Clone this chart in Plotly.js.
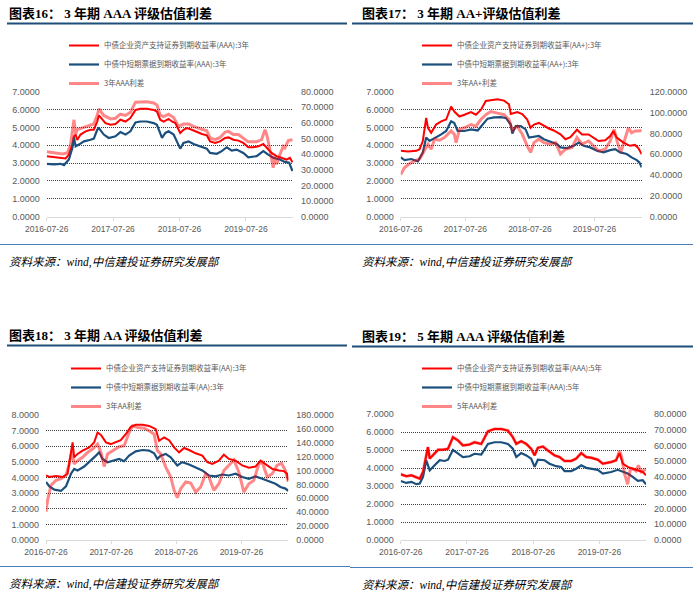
<!DOCTYPE html>
<html><head><meta charset="utf-8">
<script src="https://cdn.plot.ly/plotly-3.0.1.min.js"></script>
<style>html,body{margin:0;padding:0;background:#fff}#chart{width:700px;height:596px}</style>
</head><body><div id="chart"></div>
<script>
// ---------- Panel 1: 3年期 AAA ----------
const p1Names = ['中债企业资产支持证券到期收益率(AAA):3年','中债中短期票据到期收益率(AAA):3年','3年AAA利差'];
const p1RedDates = ['2016-07-26','2016-09-04','2016-10-20','2016-11-07','2016-11-25','2016-12-14','2016-12-23','2017-01-01','2017-01-10','2017-01-28','2017-02-25','2017-03-24','2017-04-11','2017-04-30','2017-05-09','2017-05-27','2017-06-14','2017-07-12','2017-08-08','2017-09-04','2017-10-02','2017-10-29','2017-11-26','2017-12-23','2018-01-28','2018-03-06','2018-03-24','2018-04-11','2018-04-30','2018-05-27','2018-06-14','2018-07-03','2018-07-21','2018-07-30','2018-08-17','2018-09-05','2018-10-02','2018-10-29','2018-11-26','2018-12-23','2019-01-10','2019-02-07','2019-03-06','2019-04-03','2019-04-21','2019-05-18','2019-06-15','2019-07-12','2019-08-08','2019-09-05','2019-10-02','2019-10-30','2019-11-17','2019-12-14','2020-01-11','2020-02-07','2020-03-05','2020-03-24','2020-04-07'];
const p1RedVals = [3.39,3.33,3.30,3.26,3.48,4.04,4.50,4.60,4.30,4.60,4.78,4.87,4.87,5.33,5.67,5.43,5.24,5.15,5.19,5.43,5.33,5.52,5.98,6.04,6.04,5.98,5.89,5.43,5.33,5.48,5.33,5.24,4.87,4.69,4.87,4.96,4.87,4.74,4.63,4.56,4.22,4.13,4.22,4.41,4.44,4.31,4.26,4.13,3.89,3.89,3.94,4.07,3.89,3.57,3.39,3.30,3.20,3.30,3.05];
const p1BlueDates = ['2016-07-26','2016-09-04','2016-10-11','2016-10-29','2016-11-25','2016-12-14','2016-12-23','2017-01-01','2017-01-19','2017-02-16','2017-03-24','2017-04-11','2017-04-30','2017-05-09','2017-06-05','2017-07-02','2017-08-08','2017-09-04','2017-10-02','2017-10-29','2017-11-26','2017-12-23','2018-01-28','2018-03-06','2018-03-24','2018-04-21','2018-05-09','2018-05-27','2018-06-24','2018-07-12','2018-07-30','2018-08-17','2018-09-14','2018-10-11','2018-11-17','2018-12-23','2019-01-10','2019-02-16','2019-03-15','2019-04-12','2019-05-09','2019-06-05','2019-07-12','2019-08-08','2019-09-23','2019-10-30','2019-11-26','2019-12-23','2020-01-29','2020-02-25','2020-03-20','2020-04-07'];
const p1BlueVals = [2.96,2.93,2.96,2.89,3.20,3.85,4.44,3.94,4.04,4.22,4.31,4.37,4.87,4.96,4.60,4.41,4.50,4.74,4.60,4.78,5.28,5.33,5.33,5.24,5.15,4.41,4.69,4.78,4.60,4.22,3.81,4.13,4.22,4.07,3.94,3.81,3.57,3.52,3.67,3.89,3.70,3.76,3.57,3.33,3.39,3.67,3.48,3.30,3.20,3.07,3.02,2.56];
const p1SpreadDates = ['2016-07-26','2016-09-04','2016-10-20','2016-11-16','2016-12-04','2016-12-23','2017-01-01','2017-01-10','2017-02-06','2017-03-06','2017-04-11','2017-04-30','2017-05-09','2017-06-05','2017-07-12','2017-08-08','2017-09-04','2017-10-02','2017-10-29','2017-11-26','2017-12-23','2018-01-28','2018-03-06','2018-03-24','2018-04-11','2018-04-30','2018-05-27','2018-06-24','2018-07-21','2018-08-17','2018-09-14','2018-10-11','2018-11-17','2018-12-23','2019-01-10','2019-02-07','2019-03-06','2019-04-03','2019-04-21','2019-05-18','2019-06-15','2019-07-12','2019-08-08','2019-09-23','2019-10-20','2019-11-08','2019-11-20','2019-12-05','2019-12-23','2020-01-01','2020-01-11','2020-01-29','2020-02-16','2020-02-25','2020-03-15','2020-04-07'];
const p1SpreadVals = [41.5,40.8,40.2,40.8,46.0,62.0,53.0,55.7,56.7,57.8,59.3,65.0,69.0,64.8,62.6,63.0,65.6,64.8,66.8,73.3,73.6,73.6,72.8,71.5,65.0,64.0,65.6,63.5,57.8,59.3,59.3,57.8,56.3,55.0,50.4,49.3,50.7,54.2,54.6,52.6,52.6,50.4,47.9,47.9,49.3,55.6,51.4,43.0,31.3,38.7,33.5,39.8,45.0,44.0,48.7,49.3];

// ---------- Panel 2: 3年期 AA+ ----------
const p2Names = ['中债企业资产支持证券到期收益率(AA+):3年','中债中短期票据到期收益率(AA+):3年','3年AA+利差'];
const p2RedDates = ['2016-07-26','2016-09-05','2016-10-22','2016-11-10','2016-11-28','2016-12-17','2016-12-27','2017-01-14','2017-02-11','2017-03-12','2017-04-09','2017-05-07','2017-05-25','2017-06-23','2017-07-21','2017-08-27','2017-09-24','2017-10-22','2017-11-19','2017-12-17','2018-01-24','2018-03-02','2018-03-30','2018-04-09','2018-05-16','2018-06-13','2018-07-11','2018-07-30','2018-08-18','2018-09-15','2018-10-13','2018-11-10','2018-12-08','2019-01-15','2019-02-12','2019-03-12','2019-04-18','2019-05-17','2019-06-23','2019-07-21','2019-08-18','2019-09-25','2019-10-23','2019-11-10','2019-11-29','2020-01-06','2020-02-12','2020-03-11','2020-03-30','2020-04-18'];
const p2RedVals = [3.69,3.65,3.69,3.78,4.24,5.53,4.98,4.70,5.16,5.34,5.44,6.17,5.89,5.61,5.71,5.86,5.71,5.98,6.48,6.54,6.58,6.50,6.30,5.75,5.86,5.75,5.44,4.98,5.16,5.25,5.07,4.94,4.83,4.61,4.34,4.46,4.87,4.61,4.61,4.43,4.24,4.28,4.52,4.80,4.43,4.15,3.97,4.02,3.84,3.50];
const p2BlueDates = ['2016-07-26','2016-08-17','2016-09-24','2016-10-31','2016-11-28','2016-12-17','2017-01-05','2017-02-02','2017-03-12','2017-04-09','2017-05-07','2017-05-25','2017-06-13','2017-07-21','2017-08-27','2017-10-04','2017-11-01','2017-11-29','2018-01-05','2018-02-12','2018-03-12','2018-04-09','2018-04-18','2018-05-07','2018-06-04','2018-07-02','2018-07-21','2018-08-18','2018-09-15','2018-10-13','2018-11-20','2018-12-27','2019-01-15','2019-02-21','2019-03-31','2019-04-28','2019-05-26','2019-07-02','2019-08-09','2019-09-15','2019-10-23','2019-11-20','2019-12-18','2020-01-24','2020-02-21','2020-03-21','2020-04-05','2020-04-18'];
const p2BlueVals = [3.32,3.17,3.23,3.10,3.60,4.43,4.24,4.39,4.61,4.80,5.34,5.25,4.80,4.80,4.89,4.83,5.16,5.49,5.56,5.58,5.53,5.16,4.65,5.07,5.07,4.89,4.43,4.46,4.52,4.34,4.21,4.06,3.88,3.84,3.97,4.15,3.97,3.88,3.69,3.60,3.73,3.78,3.60,3.51,3.32,3.17,3.04,2.76];
const p2SpreadDates = ['2016-07-26','2016-08-17','2016-09-15','2016-10-13','2016-11-10','2016-12-08','2016-12-27','2017-01-14','2017-02-02','2017-03-02','2017-03-30','2017-05-07','2017-05-25','2017-06-04','2017-06-23','2017-07-21','2017-08-27','2017-09-24','2017-10-22','2017-11-19','2017-12-17','2018-01-24','2018-03-02','2018-03-30','2018-04-18','2018-05-16','2018-06-13','2018-07-11','2018-07-30','2018-08-18','2018-09-15','2018-10-13','2018-11-20','2018-12-18','2019-01-15','2019-02-12','2019-03-21','2019-04-18','2019-05-17','2019-06-23','2019-07-21','2019-08-18','2019-09-25','2019-10-23','2019-11-14','2019-12-03','2019-12-22','2020-01-15','2020-02-03','2020-02-21','2020-03-11','2020-03-30','2020-04-18'];
const p2SpreadVals = [40.5,47.3,51.0,53.6,55.3,63.2,69.6,64.8,74.4,73.4,75.9,82.3,79.1,71.1,83.8,85.4,88.5,86.9,93.3,97.9,101.0,99.4,97.9,93.3,82.8,86.9,79.1,68.0,61.7,71.1,74.4,71.1,69.6,71.1,60.2,64.8,66.5,75.9,69.6,72.7,68.0,63.2,64.8,72.7,83.8,71.1,61.7,74.4,85.4,80.6,82.3,82.3,82.8];

// ---------- Panel 3: 3年期 AA ----------
const p3Names = ['中债企业资产支持证券到期收益率(AA):3年','中债中短期票据到期收益率(AA):3年','3年AA利差'];
const p3RedDates = ['2016-07-26','2016-08-14','2016-09-20','2016-10-27','2016-11-24','2016-12-13','2016-12-22','2016-12-31','2017-01-19','2017-02-16','2017-03-25','2017-04-22','2017-05-11','2017-05-30','2017-06-27','2017-07-24','2017-08-21','2017-09-18','2017-10-16','2017-11-13','2017-12-11','2018-01-18','2018-02-24','2018-04-02','2018-04-21','2018-05-19','2018-06-16','2018-07-14','2018-08-11','2018-09-08','2018-10-06','2018-11-12','2018-12-19','2019-01-16','2019-02-13','2019-03-22','2019-04-19','2019-05-17','2019-06-24','2019-07-31','2019-09-06','2019-10-13','2019-11-10','2019-12-08','2020-01-15','2020-02-21','2020-03-20','2020-04-07','2020-04-14'];
const p3RedVals = [4.13,4.03,4.09,4.03,4.24,5.51,6.25,5.29,5.51,5.72,5.93,6.25,6.88,6.73,6.25,6.14,6.25,6.39,6.77,7.24,7.37,7.37,7.30,7.09,6.35,6.56,6.39,5.93,5.61,5.89,5.76,5.55,5.40,4.98,4.87,5.08,5.46,5.19,5.08,4.77,4.62,4.70,5.08,4.87,4.55,4.45,4.41,4.24,3.81];
const p3BlueDates = ['2016-07-26','2016-08-14','2016-09-11','2016-10-18','2016-11-15','2016-12-13','2016-12-31','2017-01-19','2017-02-25','2017-04-04','2017-05-02','2017-05-20','2017-06-08','2017-07-06','2017-08-12','2017-09-09','2017-10-07','2017-11-04','2017-12-11','2018-01-18','2018-02-24','2018-03-24','2018-04-11','2018-04-30','2018-05-28','2018-06-25','2018-08-01','2018-08-29','2018-10-06','2018-11-12','2018-12-19','2019-01-25','2019-03-04','2019-04-10','2019-05-17','2019-06-24','2019-07-31','2019-09-06','2019-10-13','2019-11-20','2019-12-27','2020-02-02','2020-03-01','2020-03-29','2020-04-14'];
const p3BlueVals = [3.71,3.43,3.22,3.14,3.43,4.24,4.55,4.45,4.70,5.08,5.40,5.61,5.19,4.98,5.08,5.19,5.04,5.40,5.67,5.76,5.72,5.55,5.19,5.40,5.51,5.29,4.77,4.98,4.83,4.62,4.45,4.13,4.07,4.19,4.13,4.24,4.03,3.92,4.07,3.92,3.77,3.60,3.39,3.29,3.14];
const p3SpreadDates = ['2016-07-26','2016-08-04','2016-08-23','2016-09-20','2016-10-18','2016-11-15','2016-12-03','2016-12-18','2016-12-31','2017-01-19','2017-02-16','2017-03-16','2017-04-13','2017-05-11','2017-05-30','2017-06-17','2017-07-06','2017-08-03','2017-09-09','2017-10-07','2017-11-04','2017-11-23','2017-12-21','2018-01-27','2018-02-24','2018-03-24','2018-04-11','2018-04-30','2018-05-28','2018-06-25','2018-07-14','2018-08-01','2018-08-20','2018-09-17','2018-10-15','2018-11-12','2018-12-10','2019-01-07','2019-01-25','2019-02-22','2019-03-22','2019-04-19','2019-05-17','2019-06-14','2019-07-12','2019-08-09','2019-09-06','2019-10-04','2019-11-01','2019-11-20','2019-12-18','2020-01-15','2020-02-11','2020-03-07','2020-03-29','2020-04-14'];
const p3SpreadVals = [40.8,57.4,78.8,85.8,88.2,92.9,109.6,128.7,109.6,114.3,119.0,126.2,131.0,138.1,126.2,105.8,123.9,128.7,134.3,135.7,154.8,164.3,162.0,160.9,157.3,152.3,128.7,123.9,104.9,90.7,71.6,61.0,74.0,83.5,81.9,69.1,76.3,95.4,90.7,71.6,81.0,100.1,107.3,115.2,97.7,69.1,81.0,85.8,109.6,112.0,90.7,95.4,107.3,110.5,100.1,83.5];

// ---------- Panel 4: 5年期 AAA ----------
const p4Names = ['中债企业资产支持证券到期收益率(AAA):5年','中债中短期票据到期收益率(AAA):5年','5年AAA利差'];
const p4RedDates = ['2016-07-26','2016-08-26','2016-09-23','2016-10-20','2016-11-08','2016-11-26','2016-12-09','2016-12-23','2017-01-02','2017-01-29','2017-02-17','2017-03-16','2017-04-13','2017-05-10','2017-06-07','2017-07-04','2017-08-10','2017-09-06','2017-10-13','2017-11-19','2017-12-25','2018-01-31','2018-03-09','2018-04-05','2018-04-24','2018-05-21','2018-06-18','2018-07-15','2018-08-03','2018-08-21','2018-09-18','2018-10-15','2018-11-21','2018-12-18','2019-01-15','2019-02-21','2019-03-20','2019-04-17','2019-05-14','2019-06-11','2019-07-17','2019-08-14','2019-09-29','2019-10-26','2019-11-14','2019-12-02','2019-12-29','2020-01-26','2020-02-23','2020-03-21','2020-04-08'];
const p4RedVals = [3.65,3.54,3.60,3.51,3.41,3.78,4.43,5.16,4.52,4.79,5.01,5.01,5.07,5.71,5.53,5.25,5.31,5.43,5.34,6.04,6.17,6.17,6.08,5.71,5.34,5.49,5.34,5.07,4.70,5.12,5.19,4.97,4.70,4.61,4.39,4.39,4.52,4.83,4.61,4.57,4.46,4.24,4.33,4.43,4.83,4.24,4.06,3.96,3.87,3.78,3.60];
const p4BlueDates = ['2016-07-26','2016-08-26','2016-09-23','2016-10-20','2016-11-08','2016-11-26','2016-12-14','2017-01-02','2017-01-29','2017-02-26','2017-03-25','2017-04-13','2017-05-10','2017-06-07','2017-07-04','2017-08-10','2017-09-06','2017-10-13','2017-11-19','2017-12-25','2018-01-31','2018-03-09','2018-04-05','2018-04-24','2018-05-21','2018-06-18','2018-07-15','2018-08-03','2018-08-21','2018-09-27','2018-10-24','2018-11-30','2018-12-27','2019-01-15','2019-02-21','2019-03-20','2019-04-17','2019-05-14','2019-06-11','2019-07-17','2019-08-14','2019-09-29','2019-11-04','2019-12-02','2019-12-29','2020-01-26','2020-02-23','2020-03-21','2020-04-08'];
const p4BlueVals = [3.28,3.17,3.23,3.10,3.14,3.51,4.43,3.87,4.15,4.43,4.39,4.46,5.01,4.79,4.61,4.65,4.79,4.75,5.34,5.43,5.43,5.34,5.07,4.61,4.83,4.70,4.52,4.06,4.46,4.43,4.24,4.10,4.06,3.83,3.83,3.96,4.15,4.01,3.96,3.90,3.69,3.78,3.90,3.78,3.69,3.51,3.28,3.32,3.10];
const p4SpreadDates = ['2016-07-26','2016-08-26','2016-09-23','2016-10-20','2016-11-08','2016-11-26','2016-12-09','2016-12-23','2017-01-02','2017-01-29','2017-02-17','2017-03-16','2017-04-13','2017-05-10','2017-06-07','2017-07-04','2017-08-10','2017-09-06','2017-10-13','2017-11-19','2017-12-25','2018-01-31','2018-03-09','2018-04-05','2018-04-24','2018-05-21','2018-06-18','2018-07-15','2018-08-03','2018-08-21','2018-09-18','2018-10-15','2018-11-21','2018-12-18','2019-01-15','2019-02-21','2019-03-20','2019-04-17','2019-05-14','2019-06-11','2019-07-17','2019-08-14','2019-09-29','2019-10-26','2019-11-14','2019-11-26','2019-12-11','2019-12-29','2020-01-11','2020-01-26','2020-02-13','2020-02-26','2020-03-12','2020-03-27','2020-04-08'];
const p4SpreadVals = [41.7,40.5,41.1,40.1,39.0,43.2,50.6,59.0,51.7,54.7,57.3,57.3,57.9,65.3,63.2,60.0,60.7,62.1,61.0,69.0,70.5,70.5,69.5,65.3,61.0,62.7,61.0,57.9,53.7,58.5,59.3,56.8,53.7,52.7,50.2,50.2,51.7,55.2,52.7,52.2,51.0,48.5,49.5,50.6,56.5,52.7,42.2,35.4,44.2,45.3,43.8,47.4,43.2,44.2,44.8];

const yearTicks = ['2016-07-26','2017-07-26','2018-07-26','2019-07-26'];
const panelTitles = ['图表16： 3 年期 AAA 评级估值利差','图表17： 3 年期 AA+评级估值利差','图表18： 3 年期 AA 评级估值利差','图表19： 5 年期 AAA 评级估值利差'];
const sourceText = '资料来源：wind,中信建投证券研究发展部';
const leftMax = [7, 7, 8, 7];
const rightMax = [80, 120, 180, 80];
const rightStep = [10, 20, 20, 10];
const xEnd = ['2020-04-10','2020-04-18','2020-04-14','2020-04-08'];

// ---------- layout helpers (pixel -> paper) ----------
const W = 700, H = 596;
const fx = p => p / W, fy = p => 1 - p / H;
const RED = '#FF0000', BLUE = '#1B4F7D', PINK = 'rgba(255,0,0,0.47)';
const TICKFONT = {family: 'Liberation Sans, Arial, sans-serif', size: 9, color: '#595959'};

const panels = [
  {names: p1Names, red: [p1RedDates, p1RedVals], blue: [p1BlueDates, p1BlueVals], spr: [p1SpreadDates, p1SpreadVals],
   box: [46.7, 293, 91.7, 216.7], ox: 7, top: 0, legX: 64, legY: 31},
  {names: p2Names, red: [p2RedDates, p2RedVals], blue: [p2BlueDates, p2BlueVals], spr: [p2SpreadDates, p2SpreadVals],
   box: [400.7, 641.7, 91.7, 216.7], ox: 360, top: 0, legX: 417, legY: 31},
  {names: p3Names, red: [p3RedDates, p3RedVals], blue: [p3BlueDates, p3BlueVals], spr: [p3SpreadDates, p3SpreadVals],
   box: [46, 288.3, 415, 540], ox: 7, top: 322, legX: 66, legY: 354},
  {names: p4Names, red: [p4RedDates, p4RedVals], blue: [p4BlueDates, p4BlueVals], spr: [p4SpreadDates, p4SpreadVals],
   box: [400.7, 646, 414, 540], ox: 360, top: 323, legX: 417, legY: 354}
];

const data = [];
const layout = {
  width: W, height: H, autosize: false,
  margin: {l: 0, r: 0, t: 0, b: 0, pad: 0},
  paper_bgcolor: '#ffffff', plot_bgcolor: 'rgba(0,0,0,0)',
  showlegend: true,
  annotations: [], shapes: []
};

panels.forEach((p, i) => {
  const n = i + 1;
  const xa = n === 1 ? 'x' : 'x' + n;
  const yl = 'y' + (2 * i + 1 === 1 ? '' : 2 * i + 1);
  const yr = 'y' + (2 * i + 2);
  const legName = n === 1 ? 'legend' : 'legend' + n;
  const [x0, x1, yTop, yBot] = p.box;

  data.push({type: 'scatter', mode: 'lines', name: p.names[0], x: p.red[0], y: p.red[1],
    xaxis: xa, yaxis: yl, legend: legName, line: {color: RED, width: 2}, hoverinfo: 'skip'});
  data.push({type: 'scatter', mode: 'lines', name: p.names[1], x: p.blue[0], y: p.blue[1],
    xaxis: xa, yaxis: yl, legend: legName, line: {color: BLUE, width: 2.2}, hoverinfo: 'skip'});
  data.push({type: 'scatter', mode: 'lines', name: p.names[2], x: p.spr[0], y: p.spr[1],
    xaxis: xa, yaxis: yr, legend: legName, line: {color: PINK, width: 3}, hoverinfo: 'skip'});

  const xKey = n === 1 ? 'xaxis' : 'xaxis' + n;
  const ylKey = 'yaxis' + (2 * i + 1 === 1 ? '' : 2 * i + 1);
  const yrKey = 'yaxis' + (2 * i + 2);
  layout[xKey] = {
    type: 'date', domain: [fx(x0), fx(x1)], anchor: yl, range: ['2016-07-26', xEnd[i]],
    tickvals: yearTicks, tickformat: '%Y-%m-%d', tickfont: {...TICKFONT, size: 8.5},
    showgrid: false, zeroline: false, showline: true, linecolor: '#d9d9d9', linewidth: 1,
    ticks: 'outside', ticklen: 3, tickcolor: '#d9d9d9', ticklabelstandoff: 1, fixedrange: true
  };
  layout[ylKey] = {
    domain: [fy(yBot), fy(yTop)], anchor: xa, range: [0, leftMax[i]], dtick: 1, tick0: 0,
    tickformat: '.4f', tickfont: TICKFONT, showgrid: true, gridcolor: '#404040', gridwidth: 1,
    griddash: '1px,1px', zeroline: false, showline: false, ticks: '', ticklabelstandoff: 6, fixedrange: true
  };
  layout[yrKey] = {
    overlaying: yl, side: 'right', anchor: xa, range: [0, rightMax[i]], dtick: rightStep[i], tick0: 0,
    tickformat: '.4f', tickfont: TICKFONT, showgrid: false, zeroline: false, showline: false,
    ticks: '', ticklabelstandoff: 7, fixedrange: true
  };
  layout[legName] = {
    x: fx(p.legX), y: fy(p.legY), xanchor: 'left', yanchor: 'top', orientation: 'v',
    bgcolor: 'rgba(0,0,0,0)', borderwidth: 0, tracegroupgap: 0, itemwidth: 30, traceorder: 'normal',
    font: {family: 'Noto Sans CJK SC, sans-serif', size: 7.5, color: '#595959'}
  };

  // panel title
  layout.annotations.push({xref: 'paper', yref: 'paper', x: fx(p.ox), y: fy(p.top + 13.5),
    xanchor: 'left', yanchor: 'middle', showarrow: false, text: '<b>' + panelTitles[i] + '</b>',
    font: {family: 'Liberation Serif, Noto Sans CJK SC, serif', size: 13, color: '#000000'}});
  // source note
  layout.annotations.push({xref: 'paper', yref: 'paper', x: fx(p.ox), y: fy(p.top + 262),
    xanchor: 'left', yanchor: 'middle', showarrow: false, text: '<i>' + sourceText + '</i>',
    font: {family: 'Liberation Serif, Noto Sans CJK SC, serif', size: 11.5, color: '#000000'}});
  // rule under the title and above the source
  const rx0 = i % 2 === 0 ? 7 : 352, rx1 = i % 2 === 0 ? 347 : 693;
  layout.shapes.push({type: 'line', xref: 'paper', yref: 'paper', x0: fx(rx0), x1: fx(rx1),
    y0: fy(p.top + 23.5), y1: fy(p.top + 23.5), line: {color: '#1F4E79', width: 2}});
  layout.shapes.push({type: 'line', xref: 'paper', yref: 'paper', x0: fx(i % 2 === 0 ? 0 : 350), x1: fx(i % 2 === 0 ? 350 : 693),
    y0: fy(p.top + 244.5), y1: fy(p.top + 244.5), line: {color: '#4A7EBB', width: 1}});
});

Plotly.newPlot('chart', data, layout, {displayModeBar: false, staticPlot: true});
</script></body></html>
